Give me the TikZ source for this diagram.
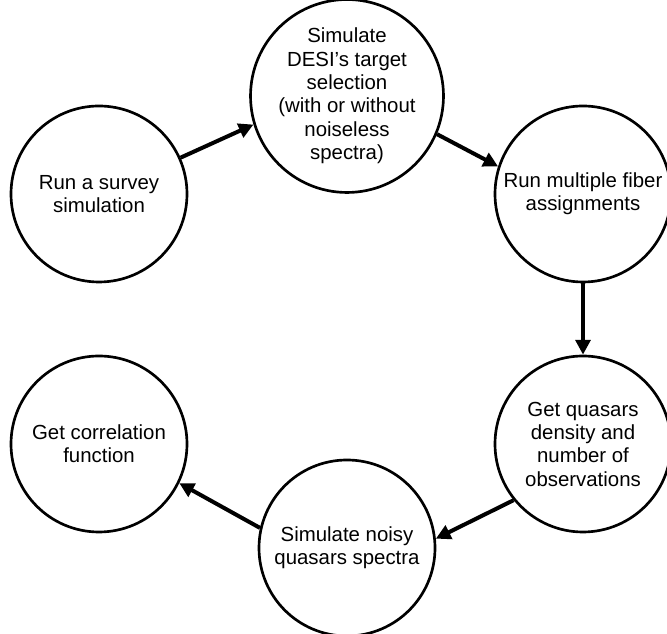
\documentclass[tikz,border=0pt]{standalone}
\usepackage{fontspec}
\setmainfont{Liberation Sans}
\usetikzlibrary{arrows.meta}

\begin{document}
\begin{tikzpicture}[x=0.75pt, y=0.75pt,
  stage/.style={circle, draw, line width=2pt, minimum size=132pt, inner sep=0pt,
    align=center, font=\fontsize{15.3}{17.5}\selectfont},
  flow/.style={-{Triangle[length=11pt, width=11pt]}, line width=3pt}]
\useasboundingbox (0,0) rectangle (667,634);

% Stages
\node[stage] (survey) at (99,440) {Run a survey\\simulation};
\node[stage] (target) at (347,538) {Simulate\\DESI’s target\\selection\\(with or without\\noiseless\\spectra)};
\node[stage] (fiber) at (583,440) {Run multiple fiber\\assignments};
\node[stage] (density) at (583,190) {Get quasars\\density and\\number of\\observations};
\node[stage] (noisy) at (347,86) {Simulate noisy\\quasars spectra};
\node[stage] (corr) at (99,190) {Get correlation\\function};

% Flow between stages
\draw[flow] (survey.24) -- (target.197);
\draw[flow] (target.-23) -- (fiber.162);
\draw[flow] (fiber.south) -- (density.north);
\draw[flow] (density.219) -- (noisy.6);
\draw[flow] (noisy.167) -- (corr.-26);
\end{tikzpicture}
\end{document}
